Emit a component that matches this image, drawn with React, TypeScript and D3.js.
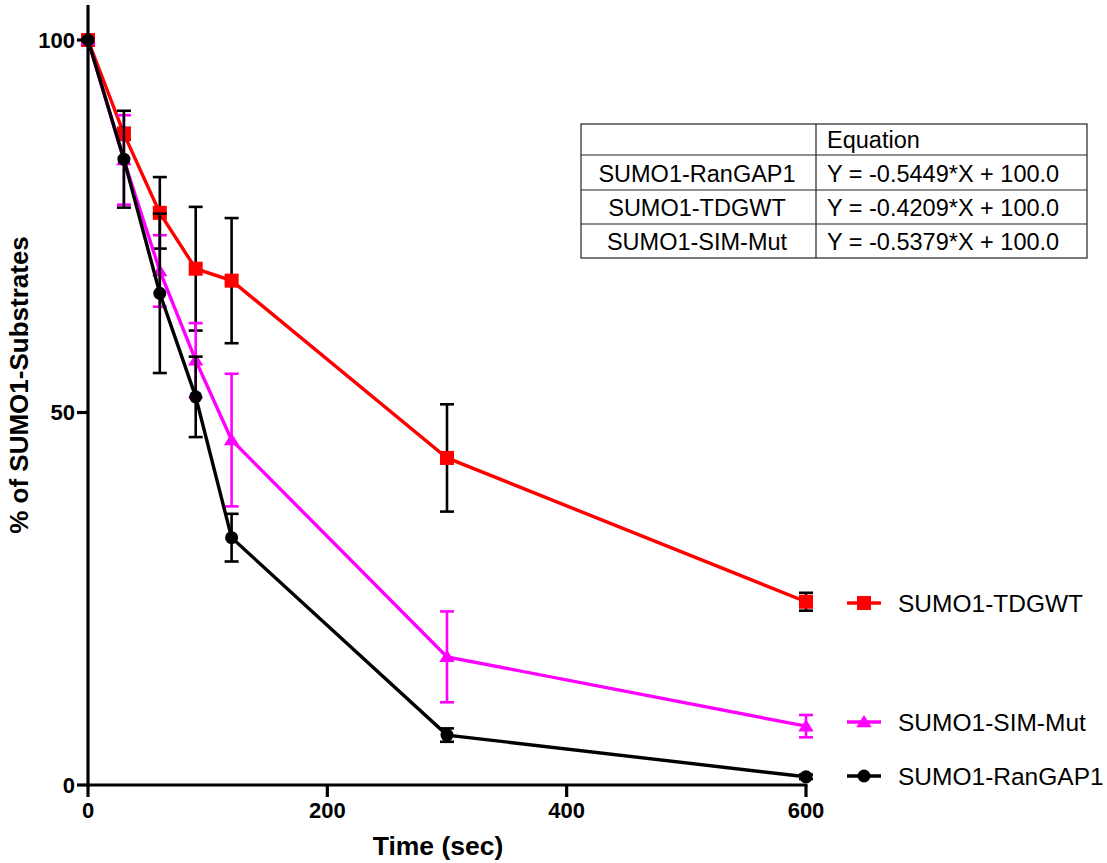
import React from "react";
import * as d3 from "d3";

const times = [0, 30, 60, 90, 120, 300, 600];
const tdgwt = [100, 87.4, 76.8, 69.3, 67.7, 43.9, 24.6];
const tdgwtErr = [0, 0.8, 4.8, 8.3, 8.4, 7.2, 1.2];
const simMut = [100, 83.9, 69.0, 57.0, 46.3, 17.2, 7.9];
const simMutErr = [0, 6.0, 4.8, 5.0, 8.9, 6.1, 1.5];
const ranGap = [100, 84.0, 66.0, 52.1, 33.2, 6.7, 1.1];
const ranGapErr = [0, 6.5, 10.7, 5.4, 3.2, 0.9, 0.3];

const xTicks = [0, 200, 400, 600];
const yTicks = [0, 50, 100];

const tableRows = [
  ["SUMO1-RanGAP1", "Y = -0.5449*X + 100.0"],
  ["SUMO1-TDGWT", "Y = -0.4209*X + 100.0"],
  ["SUMO1-SIM-Mut", "Y = -0.5379*X + 100.0"],
];

const FONT = "'Liberation Sans', Arial, Helvetica, sans-serif";

type Series = {
  name: string;
  values: number[];
  errs: number[];
  color: string;
  errColor: string;
  marker: "square" | "triangle" | "circle";
  legendY: number;
};

const series: Series[] = [
  { name: "SUMO1-TDGWT", values: tdgwt, errs: tdgwtErr, color: "#ff0000", errColor: "#000000", marker: "square", legendY: 603 },
  { name: "SUMO1-SIM-Mut", values: simMut, errs: simMutErr, color: "#ff00ff", errColor: "#ff00ff", marker: "triangle", legendY: 722 },
  { name: "SUMO1-RanGAP1", values: ranGap, errs: ranGapErr, color: "#000000", errColor: "#000000", marker: "circle", legendY: 776 },
];

function Marker({ type, x, y, color }: { type: string; x: number; y: number; color: string }) {
  if (type === "square") return <rect x={x - 7} y={y - 7} width={14} height={14} fill={color} />;
  if (type === "circle") return <circle cx={x} cy={y} r={6.5} fill={color} />;
  const s = 7;
  return <path d={`M${x},${y - s}L${x + s * 1.1},${y + s * 0.75}L${x - s * 1.1},${y + s * 0.75}Z`} fill={color} />;
}

export default function App() {
  const x = d3.scaleLinear().domain([0, 600]).range([88, 806]);
  const y = d3.scaleLinear().domain([0, 100]).range([785, 40]);
  const line = d3
    .line<number>()
    .x((_, i) => x(times[i]))
    .y((d) => y(d));

  const capW = 7;

  return (
    <svg width={1107} height={863} style={{ position: "absolute", left: 0, top: 0, background: "#fff" }} fontFamily={FONT}>
      <rect width={1107} height={863} fill="#fff" />
      {/* series */}
      {series.map((s) => (
        <g key={s.name}>
          <path d={line(s.values) || ""} fill="none" stroke={s.color} strokeWidth={3.4} />
          {s.values.map((v, i) =>
            s.errs[i] > 0 ? (
              <g key={i} stroke={s.errColor} strokeWidth={2.6}>
                <line x1={x(times[i])} x2={x(times[i])} y1={y(v + s.errs[i])} y2={y(v - s.errs[i])} />
                <line x1={x(times[i]) - capW} x2={x(times[i]) + capW} y1={y(v + s.errs[i])} y2={y(v + s.errs[i])} />
                <line x1={x(times[i]) - capW} x2={x(times[i]) + capW} y1={y(v - s.errs[i])} y2={y(v - s.errs[i])} />
              </g>
            ) : null
          )}
          {s.values.map((v, i) => (
            <Marker key={i} type={s.marker} x={x(times[i])} y={y(v)} color={s.color} />
          ))}
        </g>
      ))}

      {/* axes */}
      <line x1={88} x2={88} y1={5} y2={786.5} stroke="#000" strokeWidth={3.2} />
      <line x1={86.5} x2={x(600) + 1.5} y1={785} y2={785} stroke="#000" strokeWidth={3.2} />
      {yTicks.map((t) => (
        <g key={t}>
          <line x1={77} x2={88} y1={y(t)} y2={y(t)} stroke="#000" strokeWidth={3.2} />
          <text x={75} y={y(t)} dy="0.36em" textAnchor="end" fontWeight="bold" fontSize={22}>
            {t}
          </text>
        </g>
      ))}
      {xTicks.map((t) => (
        <g key={t}>
          <line x1={x(t)} x2={x(t)} y1={785} y2={797} stroke="#000" strokeWidth={3.2} />
          <text x={x(t)} y={818} textAnchor="middle" fontWeight="bold" fontSize={22}>
            {t}
          </text>
        </g>
      ))}
      <text x={438} y={855} textAnchor="middle" fontWeight="bold" fontSize={26.5}>
        Time (sec)
      </text>
      <text transform="translate(28,385) rotate(-90)" textAnchor="middle" fontWeight="bold" fontSize={26}>
        % of SUMO1-Substrates
      </text>

      {/* table */}
      <g stroke="#222" strokeWidth={1.2} fill="none">
        <rect x={581} y={124} width={506} height={134} />
        <line x1={816} x2={816} y1={124} y2={258} />
        <line x1={581} x2={1087} y1={155} y2={155} />
        <line x1={581} x2={1087} y1={190} y2={190} />
        <line x1={581} x2={1087} y1={224} y2={224} />
      </g>
      <text x={827} y={148} fontSize={23.5}>Equation</text>
      {tableRows.map((r, i) => (
        <g key={r[0]}>
          <text x={697} y={182 + i * 34} textAnchor="middle" fontSize={23.5}>
            {r[0]}
          </text>
          <text x={827} y={182 + i * 34} fontSize={23.5}>
            {r[1]}
          </text>
        </g>
      ))}

      {/* legend */}
      {series.map((s) => (
        <g key={s.name}>
          <line x1={847} x2={881} y1={s.legendY} y2={s.legendY} stroke={s.color} strokeWidth={3.4} />
          <Marker type={s.marker} x={864} y={s.legendY} color={s.color} />
          <text x={898} y={s.legendY} dy="0.36em" fontSize={24.5}>
            {s.name}
          </text>
        </g>
      ))}
    </svg>
  );
}
